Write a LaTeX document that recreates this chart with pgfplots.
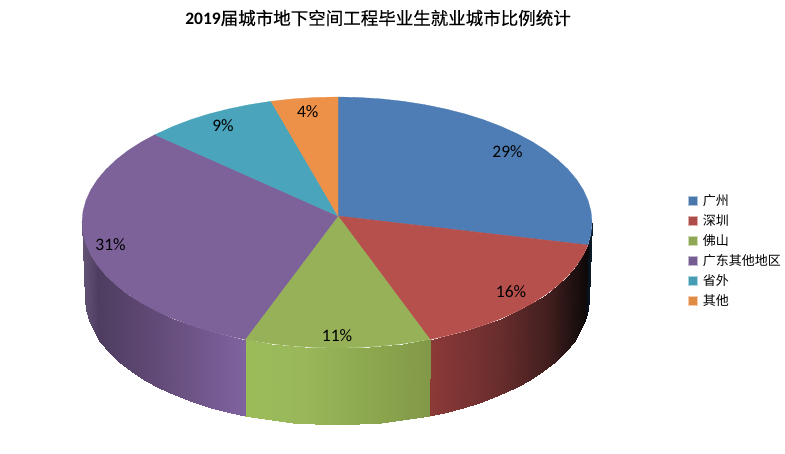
\documentclass[border=0pt]{standalone}
\usepackage{fontspec}
\usepackage{pgfplots}
\pgfplotsset{compat=1.18}
\setmainfont{Carlito}
\newfontfamily\cjk{Noto Sans CJK SC}
\newfontfamily\cjkb[FakeBold=0.3]{Noto Sans CJK SC}

\definecolor{cblue}{RGB}{78,125,181}
\definecolor{cred}{RGB}{182,80,77}
\definecolor{cgreen}{RGB}{151,177,89}
\definecolor{cpurple}{RGB}{124,98,153}
\definecolor{cteal}{RGB}{74,164,188}
\definecolor{corange}{RGB}{237,145,72}

% side wall shading, positions follow x in the picture
\pgfplotsset{
  colormap={wallblue}{rgb255(0)=(8,12,18) rgb255(10)=(12,30,45)},
  colormap={wallred}{rgb255(0)=(140,58,56) rgb255(70)=(105,45,45) rgb255(120)=(65,30,30) rgb255(159)=(12,8,8)},
  colormap={wallgreen}{rgb255(0)=(155,187,89) rgb255(55)=(154,184,90) rgb255(115)=(142,170,80) rgb255(185)=(130,152,72)},
  colormap={wallpurple}{rgb255(0)=(100,85,118) rgb255(16)=(78,61,96) rgb255(80)=(100,76,122) rgb255(163)=(127,99,159)},
}

\begin{document}
\begin{tikzpicture}
\path[use as bounding box] (0,0) rectangle (785bp,454bp);
\begin{axis}[
    at={(0,0)}, anchor=south west,
    scale only axis,
    width=785bp, height=454bp,
    xmin=0, xmax=785, ymin=0, ymax=454,
    y dir=reverse,
    hide axis,
    clip=false,
    legend style={
        at={(axis cs:688.2,192.5)}, anchor=north west,
        draw=none, fill=none,
        font=\cjk\fontsize{13bp}{14bp}\selectfont,
        row sep=3.6bp,
        inner xsep=0pt, inner ysep=0pt,
    },
    legend cell align=left,
    legend image code/.code={
        \draw[#1,line width=0.8bp] (0.4bp,-4.3bp) rectangle (9bp,4.3bp);
    },
]
% ---- side walls: first row top rim, second row bottom rim
\addplot[surf, shader=interp, mesh/rows=2, point meta=x, point meta rel=per plot,
    colormap name=wallblue, forget plot] coordinates {
    (592,222.5) (591,233.4) (588,245)
    (589,298.5) (588,309.5) (585.2,320.4)
};
\addplot[surf, shader=interp, mesh/rows=2, point meta=x, point meta rel=per plot,
    colormap name=wallred, forget plot] coordinates {
    (588,245) (583.3,255) (576.6,265.4) (568.1,275.5) (557.8,285.25) (545.9,294.5)
    (532.3,303.2) (517.3,311.2) (500.9,318.6) (483.3,325.3) (464.5,331.2) (444.8,336.2) (430,339.5)
    (585.2,320.4) (580.4,331.1) (573.8,341.6) (565.4,351.7) (555.2,361.5) (543.4,370.8)
    (530,379.5) (515.2,387.6) (499,395) (481.5,401.7) (463,407.6) (443.5,412.7) (429,415.8)
};
\addplot[surf, shader=interp, mesh/rows=2, point meta=x, point meta rel=per plot,
    colormap name=wallgreen, forget plot] coordinates {
    (245,339.5) (249.8,340.4) (271,343.7) (292.7,346.1) (314.8,347.5) (337,348)
    (359.2,347.5) (381.3,346.1) (403,343.7) (424.2,340.4) (430,339.5)
    (245.1,415.8) (250.8,416.9) (271.8,420.2) (293.2,422.6) (315,424) (337,424.5)
    (359,424) (380.8,422.6) (402.2,420.2) (423.2,416.9) (429,415.8)
};
\addplot[surf, shader=interp, mesh/rows=2, point meta=x, point meta rel=per plot,
    colormap name=wallpurple, forget plot] coordinates {
    (82,222.5) (83,233.4) (85.9,244.3) (90.7,255) (97.4,265.4) (105.9,275.5) (116.2,285.25)
    (128.1,294.5) (141.7,303.2) (156.7,311.2) (173.1,318.6) (190.7,325.3) (209.5,331.2) (229.2,336.2) (245,339.5)
    (85,298.5) (86,309.5) (88.8,320.4) (93.6,331.1) (100.2,341.6) (108.6,351.7) (118.8,361.5)
    (130.6,370.8) (144,379.5) (158.8,387.6) (175,395) (192.5,401.7) (211,407.6) (230.5,412.7) (245.1,415.8)
};
% ---- top faces
\addplot[fill=cblue, draw=cblue, line width=0.3bp, forget plot] coordinates {
    (338,216) (338,97) (359.2,97.5) (381.3,98.9) (403,101.3) (424.2,104.6) (444.8,108.8)
    (464.5,113.8) (483.3,119.7) (500.9,126.4) (517.3,133.8) (532.3,141.8) (545.9,150.5)
    (557.8,159.75) (568.1,169.5) (576.6,179.6) (583.3,190) (588.1,200.7) (591,211.6)
    (592,222.5) (591,233.4) (588,245)
} --cycle;
\addplot[fill=cred, draw=cred, line width=0.3bp, forget plot] coordinates {
    (338,216) (588,245) (583.3,255) (576.6,265.4) (568.1,275.5) (557.8,285.25) (545.9,294.5)
    (532.3,303.2) (517.3,311.2) (500.9,318.6) (483.3,325.3) (464.5,331.2) (444.8,336.2) (430,339.5)
} --cycle;
\addplot[fill=cgreen, draw=cgreen, line width=0.3bp, forget plot] coordinates {
    (338,216) (430,339.5) (424.2,340.4) (403,343.7) (381.3,346.1) (359.2,347.5) (337,348)
    (314.8,347.5) (292.7,346.1) (271,343.7) (249.8,340.4) (245,339.5)
} --cycle;
\addplot[fill=cpurple, draw=cpurple, line width=0.3bp, forget plot] coordinates {
    (338,216) (245,339.5) (229.2,336.2) (209.5,331.2) (190.7,325.3) (173.1,318.6) (156.7,311.2)
    (141.7,303.2) (128.1,294.5) (116.2,285.25) (105.9,275.5) (97.4,265.4) (90.7,255)
    (85.9,244.3) (83,233.4) (82,222.5) (83,211.6) (85.9,200.7) (90.7,190) (97.4,179.6)
    (105.9,169.5) (116.2,159.75) (128.1,150.5) (141.7,141.8) (155,134.7)
} --cycle;
\addplot[fill=cteal, draw=cteal, line width=0.3bp, forget plot] coordinates {
    (338,216) (155,134.7) (173.1,126.4) (190.7,119.7) (209.5,113.8) (229.2,108.8)
    (249.8,104.6) (271,101.3)
} --cycle;
\addplot[fill=corange, draw=corange, line width=0.3bp, forget plot] coordinates {
    (338,216) (271,101.3) (292.7,98.9) (314.8,97.5) (338,97)
} --cycle;

% ---- legend
\addlegendimage{fill=cblue!95!black, draw=cblue!45}
\addlegendentry{\hspace*{3bp}广州}
\addlegendimage{fill=cred!95!black, draw=cred!45}
\addlegendentry{\hspace*{3bp}深圳}
\addlegendimage{fill=cgreen!95!black, draw=cgreen!45}
\addlegendentry{\hspace*{3bp}佛山}
\addlegendimage{fill=cpurple!95!black, draw=cpurple!45}
\addlegendentry{\hspace*{3bp}广东其他地区}
\addlegendimage{fill=cteal!95!black, draw=cteal!45}
\addlegendentry{\hspace*{3bp}省外}
\addlegendimage{fill=corange!95!black, draw=corange!45}
\addlegendentry{\hspace*{3bp}其他}

% ---- labels
\node[font=\fontsize{17.5bp}{20bp}\selectfont] at (axis cs:507.5,151.5) {29\%};
\node[font=\fontsize{17.5bp}{20bp}\selectfont] at (axis cs:511,292) {16\%};
\node[font=\fontsize{17.5bp}{20bp}\selectfont] at (axis cs:337,335.5) {11\%};
\node[font=\fontsize{17.5bp}{20bp}\selectfont] at (axis cs:110.5,245) {31\%};
\node[font=\fontsize{17.5bp}{20bp}\selectfont] at (axis cs:223,126) {9\%};
\node[font=\fontsize{17.5bp}{20bp}\selectfont] at (axis cs:307.7,112) {4\%};
\node[font=\fontsize{17.5bp}{20bp}\selectfont, inner sep=0pt] at (axis cs:378,18)
    {\textbf{2019}{\cjkb 届城市地下空间工程毕业生就业城市比例统计}};
\end{axis}
\end{tikzpicture}
\end{document}
